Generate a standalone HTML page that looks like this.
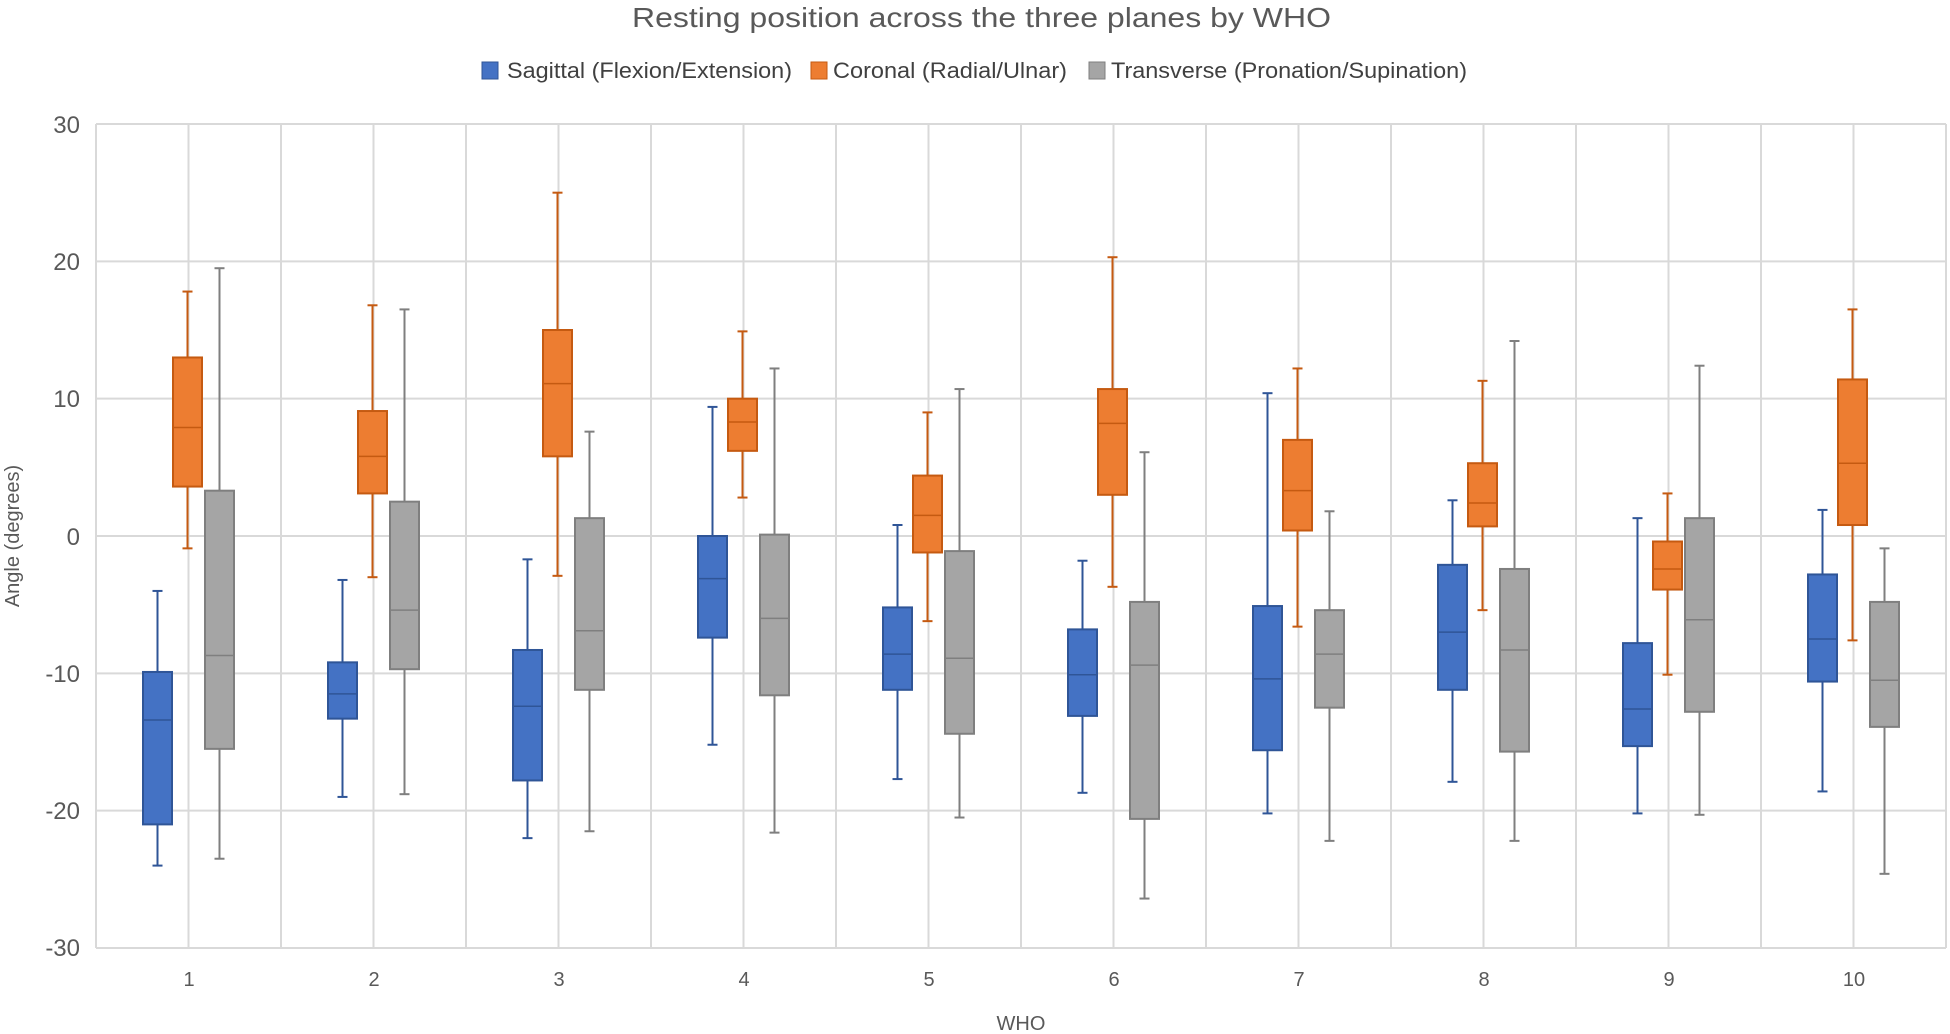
<!DOCTYPE html>
<html><head><meta charset="utf-8"><style>
html,body{margin:0;padding:0;background:#fff;}
svg{display:block;font-family:"Liberation Sans",sans-serif;}
</style></head><body>
<svg id="c" width="1950" height="1034" viewBox="0 0 1950 1034" xmlns="http://www.w3.org/2000/svg">
<rect width="1950" height="1034" fill="#fff"/>
<g id="grid" stroke="#d9d9d9" stroke-width="2"></g>
<text x="632" y="27" font-size="28" fill="#595959" textLength="699" lengthAdjust="spacingAndGlyphs">Resting position across the three planes by WHO</text>
<rect x="482" y="62" width="16" height="17" fill="#4472C4" stroke="#2F5597"/>
<text x="507" y="78" font-size="22" fill="#404040" textLength="285" lengthAdjust="spacingAndGlyphs">Sagittal (Flexion/Extension)</text>
<rect x="811" y="62" width="16" height="17" fill="#ED7D31" stroke="#C55A11"/>
<text x="833" y="78" font-size="22" fill="#404040" textLength="234" lengthAdjust="spacingAndGlyphs">Coronal (Radial/Ulnar)</text>
<rect x="1089" y="62" width="16" height="17" fill="#A5A5A5" stroke="#7F7F7F"/>
<text x="1111" y="78" font-size="22" fill="#404040" textLength="356" lengthAdjust="spacingAndGlyphs">Transverse (Pronation/Supination)</text>
<g font-size="24" fill="#595959" text-anchor="end">
<text x="80" y="133">30</text><text x="80" y="270">20</text><text x="80" y="407">10</text>
<text x="80" y="545">0</text><text x="80" y="682">-10</text><text x="80" y="819">-20</text><text x="80" y="956">-30</text>
</g>
<g font-size="20" fill="#595959" text-anchor="middle">
<text x="189" y="986">1</text><text x="374" y="986">2</text><text x="559" y="986">3</text><text x="744" y="986">4</text><text x="929" y="986">5</text>
<text x="1114" y="986">6</text><text x="1299" y="986">7</text><text x="1484" y="986">8</text><text x="1669" y="986">9</text><text x="1854" y="986">10</text>
</g>
<text x="1021" y="1030" font-size="20" fill="#595959" text-anchor="middle">WHO</text>
<text transform="translate(19,536) rotate(-90)" font-size="20" fill="#595959" text-anchor="middle">Angle (degrees)</text>
<g id="boxes"></g>
</svg>
<script>
var L=96,R=1946,T=124,B=948;
function y(v){return 536-13.733*v;}
var g=document.getElementById('grid'),s='';
for(var v=-30;v<=30;v+=10){s+='<line x1="'+L+'" x2="'+R+'" y1="'+y(v)+'" y2="'+y(v)+'"/>';}
for(var i=0;i<=20;i++){var x=L+92.5*i;s+='<line x1="'+x+'" x2="'+x+'" y1="'+T+'" y2="'+B+'"/>';}
g.innerHTML=s;
var D=[
[[-24,-21,-13.4,-9.9,-4],[-0.9,3.6,7.9,13,17.8],[-23.5,-15.5,-8.7,3.3,19.5]],
[[-19,-13.3,-11.5,-9.2,-3.2],[-3,3.1,5.8,9.1,16.8],[-18.8,-9.7,-5.4,2.5,16.5]],
[[-22,-17.8,-12.4,-8.3,-1.7],[-2.9,5.8,11.1,15,25],[-21.5,-11.2,-6.9,1.3,7.6]],
[[-15.2,-7.4,-3.1,0,9.4],[2.8,6.2,8.3,10,14.9],[-21.6,-11.6,-6,0.1,12.2]],
[[-17.7,-11.2,-8.6,-5.2,0.8],[-6.2,-1.2,1.5,4.4,9],[-20.5,-14.4,-8.9,-1.1,10.7]],
[[-18.7,-13.1,-10.1,-6.8,-1.8],[-3.7,3,8.2,10.7,20.3],[-26.4,-20.6,-9.4,-4.8,6.1]],
[[-20.2,-15.6,-10.4,-5.1,10.4],[-6.6,0.4,3.3,7,12.2],[-22.2,-12.5,-8.6,-5.4,1.8]],
[[-17.9,-11.2,-7,-2.1,2.6],[-5.4,0.7,2.4,5.3,11.3],[-22.2,-15.7,-8.3,-2.4,14.2]],
[[-20.2,-15.3,-12.6,-7.8,1.3],[-10.1,-3.9,-2.4,-0.4,3.1],[-20.3,-12.8,-6.1,1.3,12.4]],
[[-18.6,-10.6,-7.5,-2.8,1.9],[-7.6,0.8,5.3,11.4,16.5],[-24.6,-13.9,-10.5,-4.8,-0.9]]];
var F=['#4472C4','#ED7D31','#A5A5A5'],S=['#2F5597','#C55A11','#7F7F7F'],O=[-31,-1,31],w=29;
var h='';
for(var c=0;c<10;c++){var cx=L+92.5+185*c;
 for(var k=0;k<3;k++){var d=D[c][k],x=cx+O[k];
  h+='<line x1="'+x+'" x2="'+x+'" y1="'+y(d[4])+'" y2="'+y(d[0])+'" stroke="'+S[k]+'" stroke-width="2"/>';
  h+='<line x1="'+(x-5)+'" x2="'+(x+5)+'" y1="'+y(d[4])+'" y2="'+y(d[4])+'" stroke="'+S[k]+'" stroke-width="2"/>';
  h+='<line x1="'+(x-5)+'" x2="'+(x+5)+'" y1="'+y(d[0])+'" y2="'+y(d[0])+'" stroke="'+S[k]+'" stroke-width="2"/>';
  h+='<rect x="'+(x-w/2)+'" y="'+y(d[3])+'" width="'+w+'" height="'+(y(d[1])-y(d[3]))+'" fill="'+F[k]+'" stroke="'+S[k]+'" stroke-width="2"/>';
  h+='<line x1="'+(x-w/2)+'" x2="'+(x+w/2)+'" y1="'+y(d[2])+'" y2="'+y(d[2])+'" stroke="'+S[k]+'" stroke-width="1.5"/>';
 }}
document.getElementById('boxes').innerHTML=h;
</script>
</body></html>
